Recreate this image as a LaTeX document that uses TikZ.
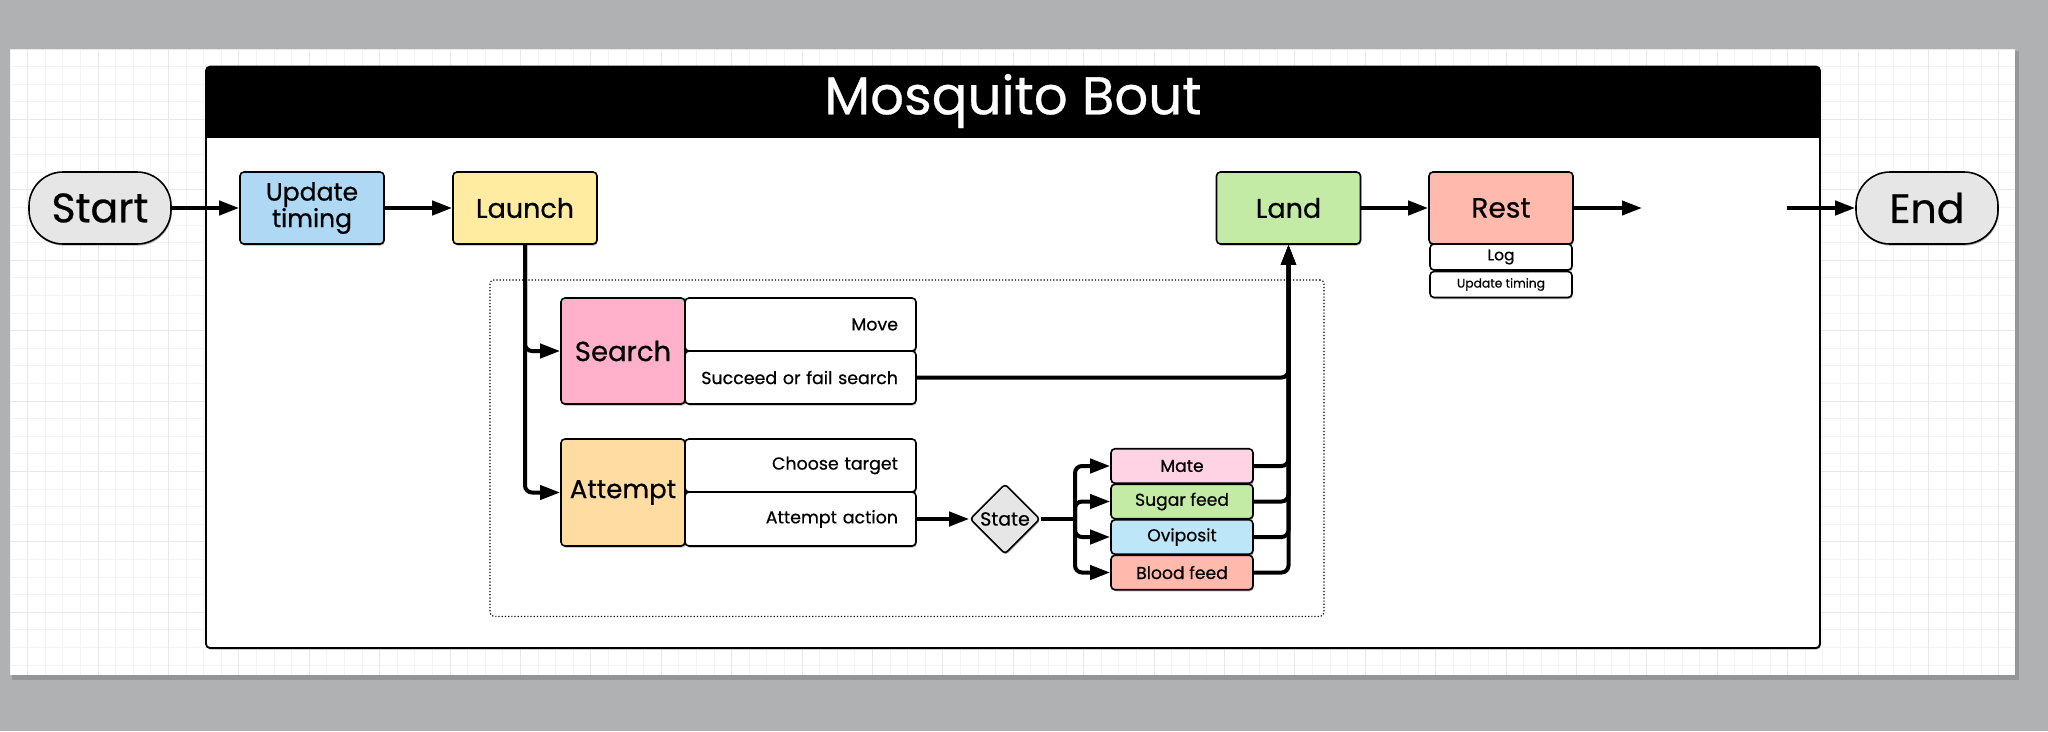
\documentclass[tikz,border=0pt]{standalone}
\usepackage{fontspec}
\setmainfont{Poppins}[FakeBold=0.6]
\usetikzlibrary{arrows.meta,shapes.geometric,shadows}
\definecolor{pagebg}{HTML}{B0B1B3}
\definecolor{gminor}{HTML}{F4F4F4}
\definecolor{gmajor}{HTML}{E8E8E8}
\definecolor{cTerm}{HTML}{E6E6E6}
\definecolor{cUpd}{HTML}{AED8F3}
\definecolor{cLaunch}{HTML}{FFECA1}
\definecolor{cLand}{HTML}{C3EBA5}
\definecolor{cRest}{HTML}{FFB9AD}
\definecolor{cSearch}{HTML}{FFB1CB}
\definecolor{cAttempt}{HTML}{FFDCA1}
\definecolor{cMate}{HTML}{FFD3E4}
\definecolor{cOvi}{HTML}{BDE6F9}
\newcommand\fsz[1]{\fontsize{#1}{#1}\selectfont}
\newcommand\rtext[1]{\makebox[195pt][r]{#1}}
\begin{document}
\begin{tikzpicture}[x=1pt,y=-1pt,
  shd/.style={drop shadow={shadow xshift=0.8pt,shadow yshift=-1.6pt,fill=black,opacity=0.3}},
  box/.style={draw=black,line width=1.6pt,rounded corners=4pt,inner sep=0pt,align=center,
    minimum width=144,minimum height=72,font=\fsz{27},shd},
  term/.style={box,fill=cTerm,rounded corners=34pt,minimum width=142,font=\fsz{41}},
  sub/.style={box,minimum width=142,minimum height=26,fill=white},
  row/.style={draw=black,line width=1.6pt,rounded corners=4pt,fill=white,inner xsep=18pt,
    minimum width=231,text width=195,align=right,font=\fsz{17.4},shd},
  act/.style={box,minimum width=142,minimum height=34.5,font=\fsz{17.2}},
  dia/.style={draw=black,line width=1.6pt,diamond,aspect=1,fill=cTerm,minimum width=70,
    minimum height=70,inner sep=0pt,rounded corners=3pt,font=\fsz{19},shd},
  conn/.style={line width=4pt,rounded corners=7pt,-{Triangle[length=20pt,width=14pt]}},
  plain/.style={line width=4pt,rounded corners=7pt}]
\useasboundingbox (0,0) rectangle (2048,731);
\fill[pagebg] (0,0) rectangle (2048,731);
\fill[black,opacity=0.15] (12,51) rectangle (2019,680);
\fill[white] (10,49) rectangle (2015,675);
\foreach \i in {0,...,113} {\draw[gminor,line width=1pt] ({10+\i*17.6},49) -- ({10+\i*17.6},675);}
\foreach \j in {0,...,35} {\draw[gminor,line width=1pt] (10,{49+\j*17.6}) -- (2015,{49+\j*17.6});}
\foreach \i in {0,...,28} {\draw[gmajor,line width=1pt] ({27.6+\i*70.4},49) -- ({27.6+\i*70.4},675);}
\foreach \j in {0,...,8} {\draw[gmajor,line width=1pt] (10,{49+\j*70.4}) -- (2015,{49+\j*70.4});}
% container
\node[draw=black,line width=1.8pt,fill=white,rounded corners=4pt,minimum width=1614,
  minimum height=581.4,inner sep=0pt,shd] (bout) at (1013,357.3) {};
\fill[black,rounded corners=4pt] (206,66.6) rectangle (1820,137.7);
\fill[black] (206,110) rectangle (1820,137.7);
\node[text=white,font=\fsz{53}] (title) at (1013,101) {Mosquito Bout};
% group
\node[draw=black,dotted,line width=1.2pt,rounded corners=4pt,minimum width=834,
  minimum height=336.5,inner sep=0pt] (group) at (907,448.2) {};
% top row
\node[term] (start) at (100,208) {Start};
\node[box,fill=cUpd,font=\fsz{25}] (upd) at (312,208) {Update\\timing};
\node[box,fill=cLaunch] (launch) at (525,208) {Launch};
\node[box,fill=cLand] (land) at (1288.5,208) {Land};
\node[box,fill=cRest,font=\fsz{28}] (rest) at (1501,208) {Rest};
\node[sub,font=\fsz{15.5}] (log) at (1501,257) {Log};
\node[sub,font=\fsz{12.3}] (rupd) at (1501,284.5) {Update timing};
\node[term] (end) at (1927,208) {End};
\coordinate (restout) at (1642,208);
\coordinate (endin) at (1787,208);
% search / attempt
\node[row,minimum height=53] (move) at (800.5,324.5) {Move};
\node[row,minimum height=53] (succ) at (800.5,377.5) {\rtext{Succeed or fail search}};
\node[box,fill=cSearch,minimum width=124,minimum height=106,font=\fsz{27.5}] (search) at (623,351) {Search};
\node[row,minimum height=53] (choose) at (800.5,465.5) {Choose target};
\node[row,minimum height=54] (action) at (800.5,519) {Attempt action};
\node[box,fill=cAttempt,minimum width=124,minimum height=107,font=\fsz{26}] (attempt) at (623,492.5) {Attempt};
% state and actions
\node[dia] (state) at (1005,519) {State};
\coordinate (jn) at (1075,519);
\node[act,fill=cMate] (mate) at (1182,466) {Mate};
\node[act,fill=cLand] (sugar) at (1182,501.5) {Sugar feed};
\node[act,fill=cOvi] (ovi) at (1182,537) {Oviposit};
\node[act,fill=cRest] (blood) at (1182,572.5) {Blood feed};
% connectors
\draw[conn] (start.east) -- (upd.west);
\draw[conn] (upd.east) -- (launch.west);
\draw[conn] (launch.south) |- (search.west);
\draw[conn] (launch.south) |- (attempt.west);
\draw[conn] (succ.east) -| (land.south);
\draw[conn] (action.east) -- (state.west);
\draw[plain] (state.east) -- (jn);
\draw[conn] (jn) |- (mate.west);
\draw[conn] (jn) |- (sugar.west);
\draw[conn] (jn) |- (ovi.west);
\draw[conn] (jn) |- (blood.west);
\draw[conn] (mate.east) -| (land.south);
\draw[conn] (sugar.east) -| (land.south);
\draw[conn] (ovi.east) -| (land.south);
\draw[conn] (blood.east) -| (land.south);
\draw[conn] (land.east) -- (rest.west);
\draw[conn] (rest.east) -- (restout);
\draw[conn] (endin) -- (end.west);
\end{tikzpicture}
\end{document}
